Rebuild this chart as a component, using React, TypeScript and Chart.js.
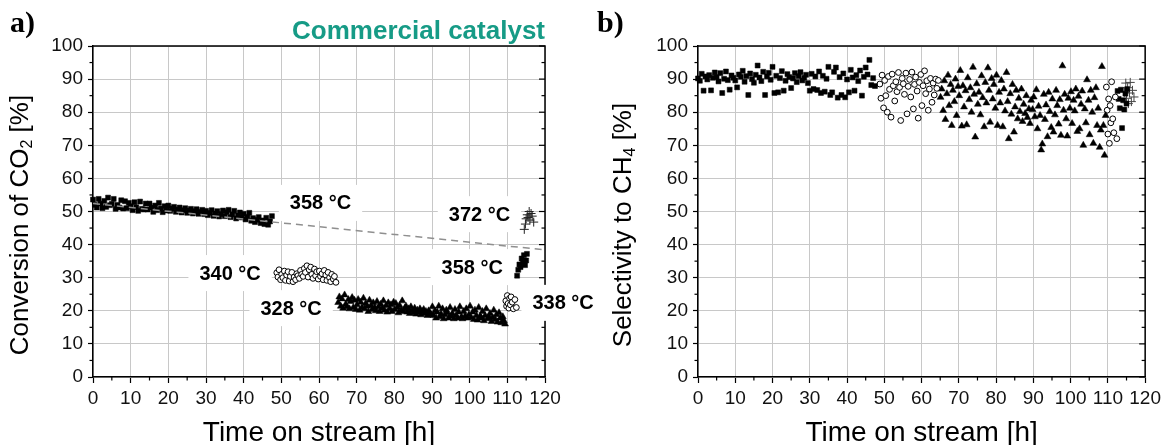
import React, { useEffect, useRef } from 'react';
import { Chart, registerables } from 'chart.js';
Chart.register(...registerables);

// ---------- DATA ----------
// Series 1: squares, 358 °C (first period)
const sq1Time = [
  0, 0.5, 1, 1.5, 2, 2.5, 3, 3.5, 4, 4.5,
  5, 5.5, 6, 6.5, 7, 7.5, 8, 8.5, 9, 9.5,
  10, 10.5, 11, 11.5, 12, 12.5, 13, 13.5, 14, 14.5,
  15, 15.5, 16, 16.5, 17, 17.5, 18, 18.5, 19, 19.5,
  20, 20.5, 21, 21.5, 22, 22.5, 23, 23.5, 24, 24.5,
  25, 25.5, 26, 26.5, 27, 27.5, 28, 28.5, 29, 29.5,
  30, 30.5, 31, 31.5, 32, 32.5, 33, 33.5, 34, 34.5,
  35, 35.5, 36, 36.5, 37, 37.5, 38, 38.5, 39, 39.5,
  40, 40.5, 41, 41.5, 42, 42.5, 43, 43.5, 44, 44.5,
  45, 45.5, 46, 46.5, 47, 47.5,
];
const sq1Conv = [
  53.6, 52.0, 51.2, 53.8, 52.4, 51.0, 53.2, 51.4, 54.2, 51.9,
  52.3, 53.8, 50.8, 52.0, 51.2, 53.4, 50.9, 53.1, 51.0, 52.6,
  51.6, 50.4, 52.8, 51.3, 50.2, 53.0, 50.8, 50.6, 52.4, 50.6,
  52.4, 51.2, 49.9, 51.8, 50.4, 52.6, 50.9, 49.8, 51.6, 50.3,
  51.8, 50.2, 50.9, 51.4, 49.9, 50.6, 51.2, 49.7, 50.4, 51.0,
  49.6, 50.3, 50.8, 49.4, 50.1, 50.7, 49.3, 49.9, 50.5, 49.2,
  50.2, 48.9, 49.6, 50.4, 48.7, 49.4, 50.1, 48.5, 49.2, 50.3,
  48.6, 49.8, 50.5, 48.3, 49.1, 50.2, 47.9, 48.8, 49.7, 48.2,
  49.3, 47.6, 48.4, 49.6, 47.2, 48.0, 46.8, 47.5, 48.3, 46.5,
  47.3, 46.2, 48.1, 46.0, 47.0, 48.6,
];
const sq1Sel = [
  90.2, 89.5, 91.6, 86.5, 90.8, 89.9, 91.2, 86.6, 90.4, 92.0,
  90.6, 89.3, 91.8, 85.8, 90.1, 92.3, 89.7, 86.8, 91.1, 90.4,
  89.6, 87.5, 91.4, 90.7, 92.5, 89.2, 90.9, 85.2, 91.7, 90.0,
  88.9, 91.3, 94.1, 90.5, 89.4, 92.2, 85.2, 90.8, 91.9, 89.8,
  93.7, 85.8, 91.0, 86.0, 90.3, 92.4, 86.5, 89.5, 91.5, 90.6,
  87.3, 90.2, 91.8, 89.1, 90.9, 92.1, 89.6, 90.4, 91.3, 88.8,
  86.5, 91.6, 87.0, 90.8, 86.7, 92.3, 85.8, 91.0, 86.2, 90.1,
  93.7, 85.2, 86.0, 92.2, 93.5, 84.4, 90.6, 85.2, 91.7, 84.5,
  89.9, 86.0, 92.8, 90.5, 86.5, 91.2, 89.4, 92.6, 85.0, 90.7,
  93.5, 91.4, 95.8, 88.2, 90.3, 87.9,
];

// Series 2: open circles, 340 °C
const ci1Time = [
  48.8, 49.1, 49.4, 49.8,
  50.1, 50.4, 50.8, 51.1, 51.4, 51.8, 52.1, 52.4, 52.8, 53.1, 53.4, 53.8,
  54.1, 54.4, 54.8, 55.1, 55.4, 55.8, 56.1, 56.4, 56.8, 57.1, 57.4, 57.8,
  58.1, 58.4, 58.8, 59.1, 59.4, 59.8, 60.1, 60.4, 60.8, 61.1, 61.4, 61.8,
  62.1, 62.4, 62.8, 63.1, 63.4, 63.8, 64.1, 64.5,
];
const ci1Conv = [
  31.5, 30.2, 32.4, 29.4, 31.0, 30.0, 32.0, 29.2,
  30.8, 31.8, 29.0, 30.4, 31.6, 28.8, 30.2, 29.4,
  31.2, 30.6, 29.8, 32.2, 31.0, 30.4, 32.8, 31.6,
  33.6, 30.2, 32.4, 33.2, 31.0, 29.8, 32.6, 30.6,
  31.8, 29.6, 32.0, 30.4, 31.2, 29.4, 32.2, 30.8,
  29.2, 31.6, 30.0, 28.8, 31.0, 29.6, 30.4, 28.6,
];
const ci1Sel = [
  88.5, 84.2, 91.2, 81.3, 89.6, 85.0, 80.0, 90.8,
  86.9, 78.5, 91.5, 88.0, 83.4, 89.2, 86.2, 92.0,
  87.5, 77.5, 90.2, 88.6, 85.4, 91.8, 79.5, 87.8,
  89.9, 84.6, 92.1, 81.0, 88.4, 90.6, 86.4, 78.2,
  89.0, 91.4, 82.0, 88.0, 92.5, 85.6, 89.5, 80.6,
  87.0, 90.2, 83.0, 88.8, 85.2, 90.0, 87.2, 89.6,
];

// Series 3: filled triangles, 328 °C
const trTime = [
  65.1, 65.4, 65.8, 66.1, 66.4, 66.8, 67.1, 67.4, 67.8, 68.1, 68.4, 68.8, 69.1, 69.4, 69.8,
  70.1, 70.4, 70.8, 71.1, 71.4, 71.8, 72.1, 72.4, 72.8, 73.1, 73.4, 73.8, 74.1, 74.4, 74.8,
  75.1, 75.4, 75.8, 76.1, 76.4, 76.8, 77.1, 77.4, 77.8, 78.1, 78.4, 78.8, 79.1, 79.4, 79.8,
  80.1, 80.4, 80.8, 81.1, 81.4, 81.8, 82.1, 82.4, 82.8, 83.1, 83.4, 83.8, 84.1, 84.4, 84.8,
  85.1, 85.4, 85.8, 86.1, 86.4, 86.8, 87.1, 87.4, 87.8, 88.1, 88.4, 88.8, 89.1, 89.4, 89.8,
  90.1, 90.4, 90.8, 91.1, 91.4, 91.8, 92.1, 92.4, 92.8, 93.1, 93.4, 93.8, 94.1, 94.4, 94.8,
  95.1, 95.4, 95.8, 96.1, 96.4, 96.8, 97.1, 97.4, 97.8, 98.1, 98.4, 98.8, 99.1, 99.4, 99.8,
  100.1, 100.4, 100.8, 101.1, 101.4, 101.8, 102.1, 102.4, 102.8, 103.1, 103.4, 103.8, 104.1, 104.4, 104.8,
  105.1, 105.4, 105.8, 106.1, 106.4, 106.8, 107.1, 107.4, 107.8, 108.1, 108.4, 108.8, 109.1, 109.4,
];
const trConv = [
  22.5, 24.2, 21.4, 23.6, 20.8, 24.8, 22.0, 21.2, 23.4, 20.6, 22.8, 24.0, 21.0, 23.2, 20.4,
  21.8, 23.4, 20.2, 22.6, 21.0, 23.8, 20.6, 22.2, 21.4, 19.8, 23.2, 21.6, 20.4, 22.4, 21.0,
  20.0, 22.8, 21.2, 19.8, 22.0, 20.8, 23.0, 20.2, 21.6, 19.6, 22.4, 20.6, 21.8, 19.8, 22.6,
  20.4, 22.2, 21.0, 19.4, 21.6, 20.2, 23.0, 19.8, 20.8, 21.4, 19.6, 20.6, 19.2, 21.2, 20.0,
  19.4, 20.8, 19.0, 20.2, 19.6, 20.6, 18.8, 19.8, 20.4, 19.2, 19.8, 18.6, 20.0, 19.4, 18.8,
  21.2, 18.6, 20.0, 17.8, 19.6, 21.4, 18.2, 19.0, 20.6, 17.6, 18.8, 20.2, 19.4, 17.8, 21.0,
  18.4, 19.2, 17.6, 20.4, 18.6, 17.8, 19.6, 21.2, 18.2, 17.6, 19.8, 18.4, 20.6, 17.8, 18.8,
  21.4, 18.0, 19.6, 17.4, 20.2, 18.6, 17.2, 21.0, 18.4, 17.8, 19.8, 17.0, 18.6, 20.6, 17.6,
  18.2, 19.2, 16.8, 18.0, 20.2, 17.4, 18.8, 16.6, 19.4, 17.8, 16.4, 18.2, 17.0, 16.0,
];
const trSel = [
  84.5, 87.0, 80.5, 89.5, 77.8, 85.6, 91.2, 82.0, 88.4, 76.0, 86.6, 83.2, 90.0, 79.0, 87.8,
  85.0, 92.6, 75.8, 88.0, 81.6, 86.5, 76.2, 90.4, 83.8, 87.4, 80.0, 93.6, 85.4, 72.5, 88.6,
  82.4, 86.0, 79.2, 91.0, 84.4, 75.6, 89.0, 82.8, 93.4, 86.6, 77.0, 90.2, 84.0, 88.4, 81.2,
  91.2, 76.0, 86.0, 82.8, 89.6, 75.6, 87.0, 80.4, 92.0, 83.2, 72.0, 85.6, 79.4, 88.4, 74.0,
  81.6, 86.6, 78.0, 84.2, 80.2, 87.0, 77.2, 82.4, 79.6, 85.0, 78.4, 81.0, 76.6, 83.6, 80.8,
  84.6, 78.6, 86.8, 75.0, 81.8, 79.0, 68.6, 70.4, 85.4, 77.8, 82.2, 72.6, 86.0, 80.2, 75.4,
  84.0, 74.0, 79.2, 86.6, 82.0, 76.4, 83.8, 73.0, 94.0, 80.6, 85.4, 78.0, 72.8, 84.2, 81.2,
  86.2, 76.6, 83.6, 80.4, 87.0, 74.2, 84.8, 75.0, 82.4, 86.4, 70.0, 81.0, 76.8, 89.8, 83.6,
  73.2, 86.6, 80.0, 70.6, 84.4, 87.4, 76.0, 81.2, 69.4, 74.6, 93.8, 76.0, 67.0, 79.0,
];

// Series 4: open circles, 338 °C
const ci2Time = [109.6, 109.8, 110.0, 110.2, 110.4, 110.6, 110.8, 111.0, 111.3, 111.6, 112.0, 112.4];
const ci2Conv = [23.0, 21.4, 24.6, 22.2, 20.8, 23.8, 21.8, 24.2, 22.6, 20.6, 23.4, 21.0];
const ci2Sel = [87.6, 80.6, 73.4, 84.0, 70.6, 82.0, 76.8, 89.2, 78.0, 73.8, 84.6, 72.0];

// Series 5: squares, 358 °C (second period)
const sq2Time = [112.6, 112.9, 113.2, 113.5, 113.8, 114.1, 114.4, 114.7, 115.0, 115.2];
const sq2Conv = [30.6, 32.4, 34.0, 33.2, 35.8, 34.6, 36.8, 33.8, 35.2, 37.2];
const sq2Sel = [86.4, 84.0, 81.2, 86.8, 75.2, 83.6, 80.8, 85.6, 82.6, 87.0];

// Series 6: crosses, 372 °C
const plTime = [114.5, 114.8, 115.0, 115.3, 115.5, 115.8, 116.0, 116.3, 116.6, 117.0];
const plConv = [44.6, 46.2, 47.8, 49.0, 48.2, 50.0, 47.4, 49.4, 48.6, 46.8];
const plSel = [86.0, 88.8, 84.2, 87.4, 82.6, 85.8, 89.0, 83.2, 86.6, 84.6];

// Dashed deactivation trend line (conversion)
const trendTime = [0, 120];
const trendConv = [52.4, 38.4];

// Ticks
const xMinorTicks = [5, 15, 25, 35, 45, 55, 65, 75, 85, 95, 105, 115];
const yMajorTicks = [0, 10, 20, 30, 40, 50, 60, 70, 80, 90, 100];
const yMinorTicks = [5, 15, 25, 35, 45, 55, 65, 75, 85, 95];

// Temperature annotations (anchored in data units)
const noteText = ['358 °C', '372 °C', '340 °C', '358 °C', '328 °C', '338 °C'];
const noteTime = [60.4, 102.6, 36.4, 100.7, 52.6, 124.8];
const noteConv = [52.6, 49.2, 31.4, 33.2, 20.8, 22.4];

// ---------- STYLE / HELPERS ----------
const SANS = '"Liberation Sans", Arial, Helvetica, sans-serif';
const SERIF = '"Liberation Serif", "Times New Roman", serif';

const pts = (xs: number[], ys: number[]) => {
  const n = Math.min(xs.length, ys.length);
  const out: { x: number; y: number }[] = [];
  for (let i = 0; i < n; i++) out.push({ x: xs[i], y: ys[i] });
  return out;
};

const markerSets = (ys: number[][], crossColor: string) => [
  { label: 'sq1', data: pts(sq1Time, ys[0]), pointStyle: 'rect', pointRadius: 3.5, backgroundColor: '#000', borderColor: '#000', pointBorderWidth: 0.5, clip: false },
  { label: 'ci1', data: pts(ci1Time, ys[1]), pointStyle: 'circle', pointRadius: 2.9, backgroundColor: '#fff', borderColor: '#000', pointBorderWidth: 1, clip: false },
  { label: 'tr', data: pts(trTime, ys[2]), pointStyle: 'triangle', pointRadius: 4, backgroundColor: '#000', borderColor: '#000', pointBorderWidth: 0.5, clip: false },
  { label: 'ci2', data: pts(ci2Time, ys[3]), pointStyle: 'circle', pointRadius: 2.9, backgroundColor: '#fff', borderColor: '#000', pointBorderWidth: 1, clip: false },
  { label: 'sq2', data: pts(sq2Time, ys[4]), pointStyle: 'rect', pointRadius: 3.5, backgroundColor: '#000', borderColor: '#000', pointBorderWidth: 0.5, clip: false },
  { label: 'pl', data: pts(plTime, ys[5]), pointStyle: 'cross', pointRadius: 4.5, backgroundColor: crossColor, borderColor: crossColor, pointBorderWidth: 1, clip: false },
];

const decoPlugin = {
  id: 'deco',
  beforeDatasetsDraw(chart: any, _a: any, o: any) {
    const { ctx, chartArea: ca, scales } = chart;
    const xs = scales.x;
    const ys = scales.y;
    ctx.save();
    ctx.strokeStyle = '#000';
    const seg = (x1: number, y1: number, x2: number, y2: number) => {
      ctx.beginPath();
      ctx.moveTo(x1, y1);
      ctx.lineTo(x2, y2);
      ctx.stroke();
    };
    ctx.lineWidth = 1.2;
    for (const v of xMinorTicks) {
      const px = xs.getPixelForValue(v);
      seg(px, ca.bottom, px, ca.bottom + 3.5);
    }
    for (const v of yMinorTicks) {
      const py = ys.getPixelForValue(v);
      seg(ca.left - 3.5, py, ca.left, py);
      seg(ca.right - 3.5, py, ca.right, py);
    }
    for (const v of yMajorTicks) {
      const py = ys.getPixelForValue(v);
      seg(ca.right - 6, py, ca.right, py);
    }
    ctx.lineWidth = 1.5;
    ctx.beginPath();
    ctx.moveTo(ca.left, ca.top);
    ctx.lineTo(ca.right, ca.top);
    ctx.lineTo(ca.right, ca.bottom);
    ctx.stroke();
    if (o.notes) {
      ctx.font = `bold 20px ${SANS}`;
      ctx.fillStyle = '#fff';
      for (let i = 0; i < noteText.length; i++) {
        const px = xs.getPixelForValue(noteTime[i]);
        const py = ys.getPixelForValue(noteConv[i]);
        const w = ctx.measureText(noteText[i]).width;
        ctx.fillRect(px - w / 2 - 11, py - 18, w + 22, 36);
      }
    }
    ctx.restore();
  },
  afterDraw(chart: any, _a: any, o: any) {
    const { ctx, chartArea: ca, scales } = chart;
    ctx.save();
    ctx.fillStyle = '#000';
    ctx.textBaseline = 'alphabetic';
    ctx.textAlign = 'left';
    ctx.font = `bold 30px ${SERIF}`;
    ctx.fillText(o.panel, o.panelX, 32);
    if (o.header) {
      ctx.fillStyle = '#169b86';
      ctx.font = `bold 26px ${SANS}`;
      ctx.textAlign = 'right';
      ctx.fillText(o.header, ca.right, 39);
    }
    ctx.fillStyle = '#000';
    ctx.font = `28px ${SANS}`;
    ctx.textAlign = 'center';
    ctx.fillText(o.xTitle, (ca.left + ca.right) / 2, 441);
    // rotated y title with subscript
    const parts: [string, boolean][] = o.yTitle;
    const mainFont = `26px ${SANS}`;
    const subFont = `16px ${SANS}`;
    let total = 0;
    const widths: number[] = [];
    for (const [t, sub] of parts) {
      ctx.font = sub ? subFont : mainFont;
      const w = ctx.measureText(t).width;
      widths.push(w);
      total += w;
    }
    ctx.translate(o.yTitleX, 225);
    ctx.rotate(-Math.PI / 2);
    ctx.textAlign = 'left';
    ctx.textBaseline = 'middle';
    let xx = -total / 2;
    parts.forEach(([t, sub], i) => {
      ctx.font = sub ? subFont : mainFont;
      ctx.fillText(t, xx, sub ? 7 : 0);
      xx += widths[i];
    });
    ctx.setTransform(1, 0, 0, 1, 0, 0);
    if (o.notes) {
      ctx.font = `bold 20px ${SANS}`;
      ctx.textAlign = 'center';
      ctx.textBaseline = 'middle';
      ctx.fillStyle = '#000';
      for (let i = 0; i < noteText.length; i++) {
        const px = scales.x.getPixelForValue(noteTime[i]);
        const py = scales.y.getPixelForValue(noteConv[i]);
        ctx.fillText(noteText[i], px, py + 1);
      }
    }
    ctx.restore();
  },
};

function makeConfig(datasets: any[], yWidth: number, padRight: number, deco: any): any {
  return {
    type: 'scatter',
    data: { datasets },
    options: {
      responsive: false,
      animation: false,
      devicePixelRatio: 1,
      events: [],
      layout: { padding: { left: 0, top: 46, right: padRight, bottom: 0 } },
      plugins: { legend: { display: false }, tooltip: { enabled: false }, deco },
      scales: {
        x: {
          type: 'linear',
          min: 0,
          max: 120,
          ticks: { stepSize: 10, color: '#111', font: { family: SANS, size: 19 }, padding: 4, maxRotation: 0, autoSkip: false },
          grid: { color: '#c8c8c8', lineWidth: 1, tickColor: '#000', tickLength: 6, tickWidth: 1.2 },
          border: { color: '#000', width: 1.5 },
          afterFit: (s: any) => { s.height = 68; },
        },
        y: {
          type: 'linear',
          min: 0,
          max: 100,
          ticks: { stepSize: 10, color: '#111', font: { family: SANS, size: 19 }, padding: 5 },
          grid: { color: '#c8c8c8', lineWidth: 1, tickColor: '#000', tickLength: 5, tickWidth: 1.2 },
          border: { color: '#000', width: 1.5 },
          afterFit: (s: any) => { s.width = yWidth; },
        },
      },
    },
    plugins: [decoPlugin],
  };
}

export default function App() {
  const leftRef = useRef<HTMLCanvasElement>(null);
  const rightRef = useRef<HTMLCanvasElement>(null);

  useEffect(() => {
    const leftSets = [
      {
        label: 'trend', type: 'line', data: pts(trendTime, trendConv), showLine: true,
        borderColor: '#8f8f8f', borderWidth: 1.5, borderDash: [7, 5], pointRadius: 0, fill: false,
      },
      ...markerSets([sq1Conv, ci1Conv, trConv, ci2Conv, sq2Conv, plConv], '#222'),
    ];
    const rightSets = markerSets([sq1Sel, ci1Sel, trSel, ci2Sel, sq2Sel, plSel], '#444');

    const c1 = new Chart(leftRef.current as HTMLCanvasElement, makeConfig(leftSets, 93, 610 - 545, {
      panel: 'a)', panelX: 10, header: 'Commercial catalyst', xTitle: 'Time on stream [h]',
      yTitle: [['Conversion of CO', false], ['2', true], [' [%]', false]], yTitleX: 21, notes: true,
    }));
    const c2 = new Chart(rightRef.current as HTMLCanvasElement, makeConfig(rightSets, 698 - 585, 580 - 563, {
      panel: 'b)', panelX: 12, header: '', xTitle: 'Time on stream [h]',
      yTitle: [['Selectivity to CH', false], ['4', true], [' [%]', false]], yTitleX: 39, notes: false,
    }));
    return () => {
      c1.destroy();
      c2.destroy();
    };
  }, []);

  return (
    <div style={{ position: 'fixed', left: 0, top: 0, width: 1165, height: 445, background: '#fff', overflow: 'hidden' }}>
      <canvas ref={leftRef} width={610} height={445} style={{ position: 'absolute', left: 0, top: 0 }} />
      <canvas ref={rightRef} width={580} height={445} style={{ position: 'absolute', left: 585, top: 0 }} />
    </div>
  );
}
